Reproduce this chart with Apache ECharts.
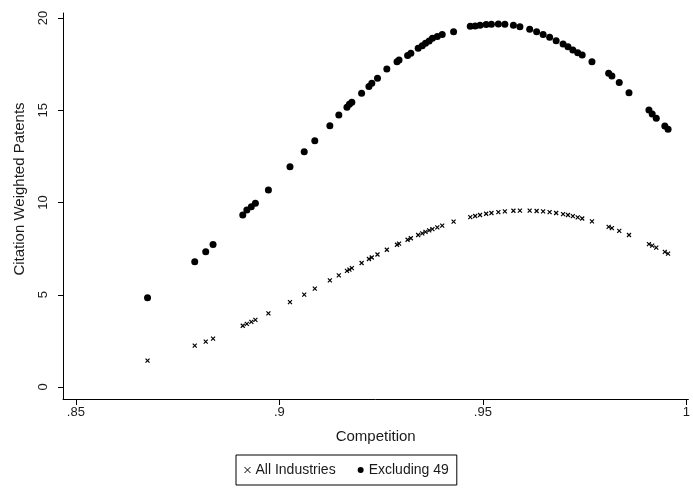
<!DOCTYPE html>
<html>
<head>
<meta charset="utf-8">
<script src="https://cdn.jsdelivr.net/npm/echarts@6/dist/echarts.min.js"></script>
<style>
  html, body { margin: 0; padding: 0; background: #fff; }
  #chart { width: 693px; height: 494px; }
</style>
</head>
<body>
<div id="chart"></div>
<script>
// Industry competition index (shared by both fitted series)
const competition = [
  0.8676, 0.8792, 0.8819, 0.8837, 0.8910, 0.8920, 0.8931, 0.8941, 0.8973, 0.9026,
  0.9061, 0.9087, 0.9124, 0.9146, 0.9166, 0.9172, 0.9178, 0.9202, 0.9220, 0.9227,
  0.9241, 0.9264, 0.9289, 0.9294, 0.9315, 0.9323, 0.9341, 0.9351, 0.9359, 0.9368,
  0.9376, 0.9388, 0.9400, 0.9428, 0.9469, 0.9481, 0.9493, 0.9508, 0.9521, 0.9538,
  0.9554, 0.9575, 0.9591, 0.9615, 0.9632, 0.9648, 0.9664, 0.9680, 0.9697, 0.9709,
  0.9721, 0.9733, 0.9744, 0.9768, 0.9809, 0.9817, 0.9835, 0.9859, 0.9908, 0.9916,
  0.9926, 0.9947, 0.9955
];

// Fitted citation-weighted patents, all industries
const allIndustries = [
  1.43, 2.24, 2.46, 2.62, 3.32, 3.42, 3.53, 3.64, 3.99, 4.60,
  5.01, 5.33, 5.78, 6.05, 6.29, 6.36, 6.44, 6.72, 6.94, 7.02,
  7.18, 7.44, 7.71, 7.77, 7.98, 8.06, 8.24, 8.33, 8.41, 8.49,
  8.56, 8.65, 8.75, 8.96, 9.21, 9.27, 9.32, 9.39, 9.43, 9.48,
  9.52, 9.55, 9.56, 9.56, 9.54, 9.52, 9.48, 9.43, 9.37, 9.32,
  9.26, 9.19, 9.13, 8.98, 8.68, 8.61, 8.46, 8.24, 7.74, 7.66,
  7.55, 7.32, 7.23
];

// Fitted citation-weighted patents, excluding industry 49
const excluding49 = [
  4.84, 6.79, 7.33, 7.73, 9.32, 9.59, 9.77, 9.96, 10.68, 11.94,
  12.75, 13.35, 14.16, 14.74, 15.16, 15.32, 15.43, 15.92, 16.28, 16.46,
  16.73, 17.24, 17.63, 17.72, 17.96, 18.09, 18.36, 18.50, 18.63, 18.75,
  18.90, 18.99, 19.11, 19.26, 19.55, 19.57, 19.60, 19.64, 19.66, 19.67,
  19.66, 19.60, 19.53, 19.39, 19.26, 19.11, 18.95, 18.77, 18.59, 18.44,
  18.27, 18.12, 17.99, 17.63, 17.00, 16.86, 16.50, 15.95, 15.01, 14.80,
  14.56, 14.15, 13.97
];

const xTicks = [0.85, 0.9, 0.95, 1];
const xTickLabels = ['.85', '.9', '.95', '1'];
const yTicks = [0, 5, 10, 15, 20];

const crossPath = 'path://M0,0L10,10M10,0L0,10';
const FONT = '"Liberation Sans", Arial, sans-serif';
const INK = '#1a1a1a';

const chart = echarts.init(document.getElementById('chart'), null, { renderer: 'canvas' });

chart.setOption({
  backgroundColor: '#ffffff',
  animation: false,
  grid: { left: 63, right: 0, top: 13, bottom: 95 },
  xAxis: {
    type: 'value',
    min: 0.84683,
    max: 1.00049,
    name: 'Competition',
    nameLocation: 'middle',
    nameGap: 30,
    nameTextStyle: { fontFamily: FONT, fontSize: 15, color: INK },
    axisLine: { show: true, onZero: false, lineStyle: { color: '#000', width: 1 } },
    axisTick: { show: true, length: 6, customValues: xTicks, lineStyle: { color: '#000' } },
    axisLabel: {
      customValues: xTicks,
      margin: 7,
      fontFamily: FONT, fontSize: 13, color: INK,
      formatter: function (v) {
        const i = xTicks.findIndex(t => Math.abs(t - v) < 1e-9);
        return i >= 0 ? xTickLabels[i] : '';
      }
    },
    splitLine: { show: false }
  },
  yAxis: {
    type: 'value',
    min: -0.65,
    max: 20.27,
    name: 'Citation Weighted Patents',
    nameLocation: 'middle',
    nameGap: 36,
    nameTextStyle: { fontFamily: FONT, fontSize: 15, color: INK, padding: [0, 0, 0, 34] },
    axisLine: { show: true, onZero: false, lineStyle: { color: '#000', width: 1 } },
    axisTick: { show: true, length: 5, customValues: yTicks, lineStyle: { color: '#000' } },
    axisLabel: {
      customValues: yTicks,
      rotate: 90,
      margin: 13,
      fontFamily: FONT, fontSize: 13, color: INK
    },
    splitLine: { show: false }
  },
  legend: {
    left: 236,
    top: 455,
    padding: [8, 8, 8, 8],
    borderColor: '#000',
    borderWidth: 1,
    itemGap: 22,
    itemWidth: 6,
    itemHeight: 6,
    textStyle: { fontFamily: FONT, fontSize: 14, color: INK },
    data: [
      { name: 'All Industries', icon: crossPath, itemStyle: { color: 'transparent', borderColor: '#000', borderWidth: 1, opacity: 1 } },
      { name: 'Excluding 49', icon: 'circle', itemStyle: { color: '#000', opacity: 1 } }
    ]
  },
  series: [
    {
      name: 'All Industries',
      type: 'scatter',
      symbol: crossPath,
      symbolSize: 4,
      itemStyle: { color: 'transparent', borderColor: '#000', borderWidth: 1.2, opacity: 1 },
      data: competition.map((c, i) => [c, allIndustries[i]])
    },
    {
      name: 'Excluding 49',
      type: 'scatter',
      symbol: 'circle',
      symbolSize: 7,
      itemStyle: { color: '#000', opacity: 1 },
      data: competition.map((c, i) => [c, excluding49[i]])
    }
  ]
});
</script>
</body>
</html>
